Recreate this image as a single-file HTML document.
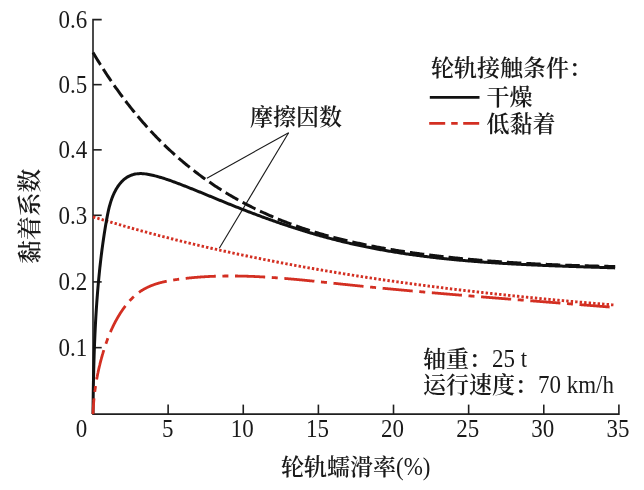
<!DOCTYPE html>
<html lang="zh"><head><meta charset="utf-8"><title>黏着系数 - 轮轨蠕滑率</title>
<style>
html,body{margin:0;padding:0;background:#fff}
svg{display:block}
text{font-family:"Liberation Serif","Noto Serif CJK SC",serif;font-size:23px;fill:#1a1a1a}
.c{font-weight:600}
.n{font-weight:400}
</style></head><body>
<svg width="644" height="490" viewBox="0 0 644 490">
<rect width="644" height="490" fill="#fff"/>
<g stroke="#1f1f1f" stroke-width="1.6" fill="none">
<path d="M101.7,19.6 L93.0,19.6 L93.0,414.1 L618.9,414.1 L618.9,404.6"/>
<line x1="168.13" y1="414.1" x2="168.13" y2="404.6"/><line x1="243.26" y1="414.1" x2="243.26" y2="404.6"/><line x1="318.39" y1="414.1" x2="318.39" y2="404.6"/><line x1="393.51" y1="414.1" x2="393.51" y2="404.6"/><line x1="468.64" y1="414.1" x2="468.64" y2="404.6"/><line x1="543.77" y1="414.1" x2="543.77" y2="404.6"/><line x1="93.0" y1="347.65" x2="101.7" y2="347.65"/><line x1="93.0" y1="281.90" x2="101.7" y2="281.90"/><line x1="93.0" y1="215.30" x2="101.7" y2="215.30"/><line x1="93.0" y1="149.85" x2="101.7" y2="149.85"/><line x1="93.0" y1="84.65" x2="101.7" y2="84.65"/>
</g>
<g stroke="#1a1a1a" stroke-width="1.1" fill="none">
<line x1="288.6" y1="132.7" x2="206.9" y2="178.2"/>
<line x1="288.6" y1="132.7" x2="219.3" y2="248.3"/>
</g>
<path d="M93.00,216.85 L94.05,217.17 L95.09,217.49 L96.14,217.81 L97.19,218.13 L98.23,218.45 L99.28,218.77 L100.33,219.08 L101.37,219.40 L102.42,219.72 L103.46,220.03 L104.51,220.34 L105.56,220.66 L106.60,220.97 L107.65,221.28 L108.70,221.59 L109.74,221.90 L110.79,222.21 L111.84,222.51 L112.88,222.82 L113.93,223.13 L114.98,223.43 L116.02,223.73 L117.07,224.04 L118.12,224.34 L119.16,224.64 L120.21,224.94 L121.26,225.24 L122.30,225.54 L123.35,225.84 L124.39,226.14 L125.44,226.44 L126.49,226.73 L127.53,227.03 L128.58,227.32 L129.63,227.61 L130.67,227.91 L131.72,228.20 L132.77,228.49 L133.81,228.78 L134.86,229.07 L135.91,229.36 L136.95,229.65 L138.00,229.94 L139.05,230.22 L140.09,230.51 L141.14,230.79 L142.19,231.08 L143.23,231.36 L144.28,231.64 L145.32,231.93 L146.37,232.21 L147.42,232.49 L148.46,232.77 L149.51,233.05 L150.56,233.33 L151.60,233.60 L152.65,233.88 L153.70,234.16 L154.74,234.43 L155.79,234.71 L156.84,234.98 L157.88,235.25 L158.93,235.53 L159.98,235.80 L161.02,236.07 L162.07,236.34 L163.12,236.61 L164.16,236.88 L165.21,237.14 L166.25,237.41 L167.30,237.68 L168.35,237.94 L169.39,238.21 L170.44,238.47 L171.49,238.74 L172.53,239.00 L173.58,239.26 L174.63,239.52 L175.67,239.79 L176.72,240.05 L177.77,240.30 L178.81,240.56 L179.86,240.82 L180.91,241.08 L181.95,241.34 L183.00,241.59 L184.04,241.85 L185.09,242.10 L186.14,242.36 L187.18,242.61 L188.23,242.86 L189.28,243.11 L190.32,243.36 L191.37,243.62 L192.42,243.87 L193.46,244.11 L194.51,244.36 L195.56,244.61 L196.60,244.86 L197.65,245.10 L198.70,245.35 L199.74,245.60 L200.79,245.84 L201.84,246.08 L202.88,246.33 L203.93,246.57 L204.97,246.81 L206.02,247.05 L207.07,247.29 L208.11,247.53 L209.16,247.77 L210.21,248.01 L211.25,248.25 L212.30,248.49 L213.35,248.72 L214.39,248.96 L215.44,249.20 L216.49,249.43 L217.53,249.67 L218.58,249.90 L219.63,250.13 L220.67,250.36 L221.72,250.60 L222.77,250.83 L223.81,251.06 L224.86,251.29 L225.90,251.52 L226.95,251.75 L228.00,251.97 L229.04,252.20 L230.09,252.43 L231.14,252.65 L232.18,252.88 L233.23,253.11 L234.28,253.33 L235.32,253.55 L236.37,253.78 L237.42,254.00 L238.46,254.22 L239.51,254.44 L240.56,254.66 L241.60,254.88 L242.65,255.10 L243.69,255.32 L244.74,255.54 L245.79,255.76 L246.83,255.98 L247.88,256.19 L248.93,256.41 L249.97,256.62 L251.02,256.84 L252.07,257.05 L253.11,257.27 L254.16,257.48 L255.21,257.69 L256.25,257.91 L257.30,258.12 L258.35,258.33 L259.39,258.54 L260.44,258.75 L261.49,258.96 L262.53,259.17 L263.58,259.38 L264.62,259.58 L265.67,259.79 L266.72,260.00 L267.76,260.20 L268.81,260.41 L269.86,260.61 L270.90,260.82 L271.95,261.02 L273.00,261.22 L274.04,261.43 L275.09,261.63 L276.14,261.83 L277.18,262.03 L278.23,262.23 L279.28,262.43 L280.32,262.63 L281.37,262.83 L282.42,263.03 L283.46,263.23 L284.51,263.42 L285.55,263.62 L286.60,263.82 L287.65,264.01 L288.69,264.21 L289.74,264.40 L290.79,264.60 L291.83,264.79 L292.88,264.98 L293.93,265.17 L294.97,265.37 L296.02,265.56 L297.07,265.75 L298.11,265.94 L299.16,266.13 L300.21,266.32 L301.25,266.51 L302.30,266.70 L303.35,266.88 L304.39,267.07 L305.44,267.26 L306.48,267.45 L307.53,267.63 L308.58,267.82 L309.62,268.00 L310.67,268.19 L311.72,268.37 L312.76,268.55 L313.81,268.74 L314.86,268.92 L315.90,269.10 L316.95,269.28 L318.00,269.46 L319.04,269.64 L320.09,269.82 L321.14,270.00 L322.18,270.18 L323.23,270.36 L324.27,270.54 L325.32,270.72 L326.37,270.90 L327.41,271.07 L328.46,271.25 L329.51,271.42 L330.55,271.60 L331.60,271.77 L332.65,271.95 L333.69,272.12 L334.74,272.30 L335.79,272.47 L336.83,272.64 L337.88,272.81 L338.93,272.98 L339.97,273.16 L341.02,273.33 L342.07,273.50 L343.11,273.67 L344.16,273.84 L345.20,274.00 L346.25,274.17 L347.30,274.34 L348.34,274.51 L349.39,274.68 L350.44,274.84 L351.48,275.01 L352.53,275.17 L353.58,275.34 L354.62,275.50 L355.67,275.67 L356.72,275.83 L357.76,276.00 L358.81,276.16 L359.86,276.32 L360.90,276.48 L361.95,276.65 L363.00,276.81 L364.04,276.97 L365.09,277.13 L366.13,277.29 L367.18,277.45 L368.23,277.61 L369.27,277.77 L370.32,277.92 L371.37,278.08 L372.41,278.24 L373.46,278.40 L374.51,278.55 L375.55,278.71 L376.60,278.87 L377.65,279.02 L378.69,279.18 L379.74,279.33 L380.79,279.48 L381.83,279.64 L382.88,279.79 L383.93,279.94 L384.97,280.10 L386.02,280.25 L387.06,280.40 L388.11,280.55 L389.16,280.70 L390.20,280.85 L391.25,281.00 L392.30,281.15 L393.34,281.30 L394.39,281.45 L395.44,281.60 L396.48,281.74 L397.53,281.89 L398.58,282.03 L399.62,282.18 L400.67,282.32 L401.72,282.47 L402.76,282.61 L403.81,282.76 L404.85,282.90 L405.90,283.04 L406.95,283.18 L407.99,283.33 L409.04,283.47 L410.09,283.61 L411.13,283.75 L412.18,283.89 L413.23,284.03 L414.27,284.17 L415.32,284.31 L416.37,284.45 L417.41,284.59 L418.46,284.73 L419.51,284.86 L420.55,285.00 L421.60,285.14 L422.65,285.28 L423.69,285.41 L424.74,285.55 L425.78,285.68 L426.83,285.82 L427.88,285.95 L428.92,286.09 L429.97,286.22 L431.02,286.36 L432.06,286.49 L433.11,286.62 L434.16,286.76 L435.20,286.89 L436.25,287.02 L437.30,287.15 L438.34,287.28 L439.39,287.41 L440.44,287.54 L441.48,287.68 L442.53,287.80 L443.58,287.93 L444.62,288.06 L445.67,288.19 L446.71,288.32 L447.76,288.45 L448.81,288.58 L449.85,288.70 L450.90,288.83 L451.95,288.96 L452.99,289.08 L454.04,289.21 L455.09,289.34 L456.13,289.46 L457.18,289.59 L458.23,289.71 L459.27,289.84 L460.32,289.96 L461.37,290.08 L462.41,290.21 L463.46,290.33 L464.51,290.45 L465.55,290.58 L466.60,290.70 L467.64,290.82 L468.69,290.94 L469.74,291.06 L470.78,291.18 L471.83,291.30 L472.88,291.42 L473.92,291.54 L474.97,291.66 L476.02,291.78 L477.06,291.90 L478.11,292.02 L479.16,292.14 L480.20,292.25 L481.25,292.37 L482.30,292.49 L483.34,292.61 L484.39,292.72 L485.43,292.84 L486.48,292.95 L487.53,293.07 L488.57,293.19 L489.62,293.30 L490.67,293.42 L491.71,293.53 L492.76,293.64 L493.81,293.76 L494.85,293.87 L495.90,293.98 L496.95,294.10 L497.99,294.21 L499.04,294.32 L500.09,294.43 L501.13,294.55 L502.18,294.66 L503.23,294.77 L504.27,294.88 L505.32,294.99 L506.36,295.10 L507.41,295.21 L508.46,295.32 L509.50,295.43 L510.55,295.54 L511.60,295.65 L512.64,295.75 L513.69,295.86 L514.74,295.97 L515.78,296.08 L516.83,296.18 L517.88,296.29 L518.92,296.40 L519.97,296.50 L521.02,296.61 L522.06,296.72 L523.11,296.82 L524.16,296.93 L525.20,297.03 L526.25,297.14 L527.29,297.24 L528.34,297.34 L529.39,297.45 L530.43,297.55 L531.48,297.65 L532.53,297.76 L533.57,297.86 L534.62,297.96 L535.67,298.06 L536.71,298.17 L537.76,298.27 L538.81,298.37 L539.85,298.47 L540.90,298.57 L541.95,298.67 L542.99,298.77 L544.04,298.87 L545.08,298.97 L546.13,299.07 L547.18,299.17 L548.22,299.27 L549.27,299.37 L550.32,299.46 L551.36,299.56 L552.41,299.66 L553.46,299.76 L554.50,299.86 L555.55,299.95 L556.60,300.05 L557.64,300.15 L558.69,300.24 L559.74,300.34 L560.78,300.43 L561.83,300.53 L562.88,300.62 L563.92,300.72 L564.97,300.81 L566.01,300.91 L567.06,301.00 L568.11,301.10 L569.15,301.19 L570.20,301.28 L571.25,301.38 L572.29,301.47 L573.34,301.56 L574.39,301.65 L575.43,301.75 L576.48,301.84 L577.53,301.93 L578.57,302.02 L579.62,302.11 L580.67,302.20 L581.71,302.29 L582.76,302.38 L583.81,302.47 L584.85,302.56 L585.90,302.65 L586.94,302.74 L587.99,302.83 L589.04,302.92 L590.08,303.01 L591.13,303.10 L592.18,303.19 L593.22,303.27 L594.27,303.36 L595.32,303.45 L596.36,303.54 L597.41,303.62 L598.46,303.71 L599.50,303.80 L600.55,303.88 L601.60,303.97 L602.64,304.05 L603.69,304.14 L604.74,304.22 L605.78,304.31 L606.83,304.39 L607.87,304.48 L608.92,304.56 L609.97,304.65 L611.01,304.73 L612.06,304.82 L613.11,304.90 L614.15,304.98 L615.20,305.07" fill="none" stroke="#d32f22" stroke-width="2.9" stroke-dasharray="2.4 2.1"/>
<path d="M93.00,52.47 L94.05,54.23 L95.09,55.97 L96.14,57.70 L97.19,59.42 L98.23,61.12 L99.28,62.80 L100.33,64.48 L101.37,66.14 L102.42,67.78 L103.46,69.42 L104.51,71.04 L105.56,72.64 L106.60,74.24 L107.65,75.82 L108.70,77.39 L109.74,78.95 L110.79,80.49 L111.84,82.02 L112.88,83.54 L113.93,85.05 L114.98,86.54 L116.02,88.02 L117.07,89.49 L118.12,90.95 L119.16,92.40 L120.21,93.84 L121.26,95.26 L122.30,96.67 L123.35,98.08 L124.39,99.47 L125.44,100.85 L126.49,102.21 L127.53,103.57 L128.58,104.92 L129.63,106.25 L130.67,107.58 L131.72,108.89 L132.77,110.19 L133.81,111.49 L134.86,112.77 L135.91,114.04 L136.95,115.30 L138.00,116.56 L139.05,117.80 L140.09,119.03 L141.14,120.25 L142.19,121.46 L143.23,122.67 L144.28,123.86 L145.32,125.04 L146.37,126.22 L147.42,127.38 L148.46,128.54 L149.51,129.68 L150.56,130.82 L151.60,131.95 L152.65,133.07 L153.70,134.17 L154.74,135.28 L155.79,136.37 L156.84,137.45 L157.88,138.52 L158.93,139.59 L159.98,140.65 L161.02,141.70 L162.07,142.74 L163.12,143.77 L164.16,144.79 L165.21,145.81 L166.25,146.81 L167.30,147.81 L168.35,148.80 L169.39,149.79 L170.44,150.76 L171.49,151.73 L172.53,152.69 L173.58,153.64 L174.63,154.59 L175.67,155.52 L176.72,156.45 L177.77,157.37 L178.81,158.29 L179.86,159.19 L180.91,160.09 L181.95,160.99 L183.00,161.87 L184.04,162.75 L185.09,163.62 L186.14,164.49 L187.18,165.34 L188.23,166.20 L189.28,167.04 L190.32,167.88 L191.37,168.71 L192.42,169.53 L193.46,170.35 L194.51,171.17 L195.56,171.97 L196.60,172.77 L197.65,173.56 L198.70,174.35 L199.74,175.13 L200.79,175.91 L201.84,176.68 L202.88,177.44 L203.93,178.20 L204.97,178.95 L206.02,179.69 L207.07,180.43 L208.11,181.17 L209.16,181.89 L210.21,182.61 L211.25,183.33 L212.30,184.04 L213.35,184.75 L214.39,185.45 L215.44,186.14 L216.49,186.83 L217.53,187.51 L218.58,188.19 L219.63,188.86 L220.67,189.53 L221.72,190.19 L222.77,190.85 L223.81,191.50 L224.86,192.14 L225.90,192.78 L226.95,193.42 L228.00,194.05 L229.04,194.67 L230.09,195.29 L231.14,195.91 L232.18,196.52 L233.23,197.13 L234.28,197.73 L235.32,198.32 L236.37,198.91 L237.42,199.50 L238.46,200.08 L239.51,200.66 L240.56,201.23 L241.60,201.80 L242.65,202.36 L243.69,202.92 L244.74,203.47 L245.79,204.02 L246.83,204.56 L247.88,205.11 L248.93,205.64 L249.97,206.18 L251.02,206.70 L252.07,207.23 L253.11,207.75 L254.16,208.27 L255.21,208.78 L256.25,209.29 L257.30,209.79 L258.35,210.29 L259.39,210.79 L260.44,211.28 L261.49,211.77 L262.53,212.26 L263.58,212.74 L264.62,213.21 L265.67,213.69 L266.72,214.16 L267.76,214.63 L268.81,215.09 L269.86,215.55 L270.90,216.00 L271.95,216.45 L273.00,216.90 L274.04,217.35 L275.09,217.79 L276.14,218.23 L277.18,218.66 L278.23,219.09 L279.28,219.52 L280.32,219.94 L281.37,220.36 L282.42,220.78 L283.46,221.19 L284.51,221.60 L285.55,222.01 L286.60,222.41 L287.65,222.81 L288.69,223.21 L289.74,223.60 L290.79,223.99 L291.83,224.38 L292.88,224.76 L293.93,225.14 L294.97,225.52 L296.02,225.89 L297.07,226.26 L298.11,226.63 L299.16,226.99 L300.21,227.36 L301.25,227.71 L302.30,228.07 L303.35,228.42 L304.39,228.77 L305.44,229.12 L306.48,229.46 L307.53,229.80 L308.58,230.13 L309.62,230.47 L310.67,230.80 L311.72,231.13 L312.76,231.45 L313.81,231.77 L314.86,232.09 L315.90,232.41 L316.95,232.72 L318.00,233.03 L319.04,233.34 L320.09,233.64 L321.14,233.95 L322.18,234.24 L323.23,234.54 L324.27,234.84 L325.32,235.13 L326.37,235.42 L327.41,235.71 L328.46,235.99 L329.51,236.28 L330.55,236.56 L331.60,236.84 L332.65,237.11 L333.69,237.39 L334.74,237.66 L335.79,237.93 L336.83,238.20 L337.88,238.46 L338.93,238.73 L339.97,238.99 L341.02,239.25 L342.07,239.50 L343.11,239.76 L344.16,240.01 L345.20,240.26 L346.25,240.51 L347.30,240.76 L348.34,241.00 L349.39,241.25 L350.44,241.49 L351.48,241.72 L352.53,241.96 L353.58,242.20 L354.62,242.43 L355.67,242.66 L356.72,242.89 L357.76,243.12 L358.81,243.34 L359.86,243.57 L360.90,243.79 L361.95,244.01 L363.00,244.23 L364.04,244.45 L365.09,244.66 L366.13,244.87 L367.18,245.08 L368.23,245.29 L369.27,245.50 L370.32,245.71 L371.37,245.91 L372.41,246.12 L373.46,246.32 L374.51,246.52 L375.55,246.72 L376.60,246.91 L377.65,247.11 L378.69,247.30 L379.74,247.49 L380.79,247.68 L381.83,247.87 L382.88,248.06 L383.93,248.24 L384.97,248.43 L386.02,248.61 L387.06,248.79 L388.11,248.97 L389.16,249.15 L390.20,249.33 L391.25,249.50 L392.30,249.68 L393.34,249.85 L394.39,250.02 L395.44,250.19 L396.48,250.36 L397.53,250.53 L398.58,250.69 L399.62,250.86 L400.67,251.02 L401.72,251.18 L402.76,251.34 L403.81,251.50 L404.85,251.66 L405.90,251.81 L406.95,251.97 L407.99,252.12 L409.04,252.28 L410.09,252.43 L411.13,252.58 L412.18,252.73 L413.23,252.87 L414.27,253.02 L415.32,253.17 L416.37,253.31 L417.41,253.45 L418.46,253.60 L419.51,253.74 L420.55,253.88 L421.60,254.01 L422.65,254.15 L423.69,254.29 L424.74,254.42 L425.78,254.56 L426.83,254.69 L427.88,254.82 L428.92,254.95 L429.97,255.08 L431.02,255.21 L432.06,255.34 L433.11,255.47 L434.16,255.59 L435.20,255.72 L436.25,255.84 L437.30,255.96 L438.34,256.08 L439.39,256.20 L440.44,256.32 L441.48,256.44 L442.53,256.56 L443.58,256.68 L444.62,256.79 L445.67,256.91 L446.71,257.02 L447.76,257.13 L448.81,257.25 L449.85,257.36 L450.90,257.47 L451.95,257.58 L452.99,257.69 L454.04,257.79 L455.09,257.90 L456.13,258.01 L457.18,258.11 L458.23,258.22 L459.27,258.32 L460.32,258.42 L461.37,258.52 L462.41,258.62 L463.46,258.72 L464.51,258.82 L465.55,258.92 L466.60,259.02 L467.64,259.11 L468.69,259.21 L469.74,259.31 L470.78,259.40 L471.83,259.49 L472.88,259.59 L473.92,259.68 L474.97,259.77 L476.02,259.86 L477.06,259.95 L478.11,260.04 L479.16,260.13 L480.20,260.22 L481.25,260.30 L482.30,260.39 L483.34,260.47 L484.39,260.56 L485.43,260.64 L486.48,260.73 L487.53,260.81 L488.57,260.89 L489.62,260.97 L490.67,261.05 L491.71,261.13 L492.76,261.21 L493.81,261.29 L494.85,261.37 L495.90,261.45 L496.95,261.53 L497.99,261.60 L499.04,261.68 L500.09,261.75 L501.13,261.83 L502.18,261.90 L503.23,261.97 L504.27,262.04 L505.32,262.12 L506.36,262.19 L507.41,262.26 L508.46,262.32 L509.50,262.39 L510.55,262.46 L511.60,262.53 L512.64,262.59 L513.69,262.66 L514.74,262.72 L515.78,262.79 L516.83,262.85 L517.88,262.91 L518.92,262.97 L519.97,263.04 L521.02,263.10 L522.06,263.16 L523.11,263.22 L524.16,263.27 L525.20,263.33 L526.25,263.39 L527.29,263.45 L528.34,263.50 L529.39,263.56 L530.43,263.61 L531.48,263.67 L532.53,263.72 L533.57,263.78 L534.62,263.83 L535.67,263.88 L536.71,263.93 L537.76,263.98 L538.81,264.03 L539.85,264.08 L540.90,264.13 L541.95,264.18 L542.99,264.23 L544.04,264.28 L545.08,264.32 L546.13,264.37 L547.18,264.42 L548.22,264.46 L549.27,264.51 L550.32,264.55 L551.36,264.60 L552.41,264.64 L553.46,264.68 L554.50,264.73 L555.55,264.77 L556.60,264.81 L557.64,264.85 L558.69,264.89 L559.74,264.93 L560.78,264.97 L561.83,265.01 L562.88,265.05 L563.92,265.09 L564.97,265.13 L566.01,265.16 L567.06,265.20 L568.11,265.24 L569.15,265.27 L570.20,265.31 L571.25,265.34 L572.29,265.38 L573.34,265.41 L574.39,265.45 L575.43,265.48 L576.48,265.52 L577.53,265.55 L578.57,265.58 L579.62,265.61 L580.67,265.65 L581.71,265.68 L582.76,265.71 L583.81,265.74 L584.85,265.77 L585.90,265.80 L586.94,265.83 L587.99,265.86 L589.04,265.89 L590.08,265.92 L591.13,265.95 L592.18,265.97 L593.22,266.00 L594.27,266.03 L595.32,266.06 L596.36,266.08 L597.41,266.11 L598.46,266.14 L599.50,266.16 L600.55,266.19 L601.60,266.21 L602.64,266.24 L603.69,266.26 L604.74,266.29 L605.78,266.31 L606.83,266.34 L607.87,266.36 L608.92,266.38 L609.97,266.41 L611.01,266.43 L612.06,266.45 L613.11,266.47 L614.15,266.50 L615.20,266.52" fill="none" stroke="#111" stroke-width="3" stroke-dasharray="14.5 5"/>
<path d="M93.00,414.10 L93.01,412.86 L93.02,411.63 L93.04,410.39 L93.05,409.15 L93.06,407.91 L93.07,406.67 L93.09,405.43 L93.10,404.19 L93.12,402.95 L93.13,401.71 L93.15,400.47 L93.16,399.23 L93.18,397.99 L93.20,396.75 L93.22,395.50 L93.23,394.26 L93.25,393.02 L93.27,391.78 L93.29,390.53 L93.31,389.29 L93.33,388.04 L93.35,386.80 L93.38,385.55 L93.40,384.31 L93.42,383.06 L93.45,381.82 L93.47,380.57 L93.50,379.32 L93.52,378.08 L93.55,376.83 L93.58,375.58 L93.60,374.34 L93.63,373.09 L93.66,371.84 L93.69,370.60 L93.72,369.35 L93.76,368.10 L93.79,366.85 L93.82,365.60 L93.86,364.36 L93.89,363.11 L93.93,361.86 L93.96,360.61 L94.00,359.36 L94.04,358.11 L94.08,356.86 L94.12,355.62 L94.16,354.37 L94.20,353.12 L94.24,351.87 L94.29,350.62 L94.33,349.37 L94.38,348.12 L94.42,346.87 L94.47,345.63 L94.52,344.38 L94.57,343.13 L94.62,341.88 L94.67,340.63 L94.72,339.38 L94.78,338.13 L94.83,336.89 L94.89,335.64 L94.94,334.39 L95.00,333.14 L95.06,331.89 L95.12,330.65 L95.18,329.40 L95.24,328.15 L95.30,326.91 L95.37,325.66 L95.43,324.41 L95.50,323.17 L95.57,321.92 L95.64,320.67 L95.71,319.43 L95.78,318.18 L95.85,316.94 L95.93,315.69 L96.00,314.45 L96.08,313.20 L96.16,311.96 L96.23,310.72 L96.31,309.47 L96.40,308.23 L96.48,306.99 L96.56,305.74 L96.65,304.50 L96.74,303.26 L96.82,302.02 L96.91,300.78 L97.00,299.54 L97.10,298.30 L97.19,297.06 L97.29,295.82 L97.38,294.58 L97.48,293.34 L97.58,292.10 L97.68,290.87 L97.78,289.63 L97.89,288.39 L97.99,287.16 L98.10,285.92 L98.21,284.69 L98.32,283.45 L98.43,282.22 L98.54,280.99 L98.66,279.75 L98.77,278.52 L98.89,277.29 L99.01,276.06 L99.13,274.83 L99.25,273.60 L99.38,272.37 L99.50,271.14 L99.63,269.91 L99.76,268.68 L99.89,267.45 L100.02,266.23 L100.16,265.00 L100.30,263.77 L100.43,262.55 L100.57,261.32 L100.72,260.09 L100.86,258.87 L101.01,257.64 L101.16,256.41 L101.31,255.19 L101.46,253.96 L101.61,252.73 L101.77,251.51 L101.93,250.28 L102.09,249.05 L102.25,247.82 L102.42,246.59 L102.59,245.37 L102.76,244.14 L102.93,242.91 L103.10,241.68 L103.28,240.44 L103.46,239.21 L103.64,237.98 L103.83,236.75 L104.01,235.51 L104.20,234.28 L104.39,233.04 L104.59,231.81 L104.79,230.57 L104.99,229.33 L105.19,228.09 L105.39,226.85 L105.60,225.61 L105.81,224.37 L106.03,223.12 L106.24,221.88 L106.46,220.63 L106.68,219.38 L106.91,218.14 L107.14,216.89 L107.38,215.64 L107.62,214.39 L107.88,213.15 L108.14,211.91 L108.41,210.67 L108.69,209.43 L108.99,208.19 L109.29,206.96 L109.62,205.74 L109.95,204.52 L110.30,203.30 L110.67,202.10 L111.06,200.89 L111.46,199.70 L111.89,198.51 L112.33,197.33 L112.80,196.16 L113.29,195.00 L113.80,193.85 L114.34,192.71 L114.90,191.58 L115.49,190.46 L116.11,189.36 L116.75,188.27 L117.42,187.20 L118.12,186.15 L118.84,185.12 L119.59,184.13 L120.37,183.16 L121.18,182.23 L122.02,181.33 L122.88,180.48 L123.77,179.66 L124.69,178.90 L125.64,178.18 L126.62,177.51 L127.62,176.90 L128.65,176.33 L129.71,175.83 L130.79,175.37 L131.89,174.97 L133.01,174.61 L134.15,174.32 L135.30,174.07 L136.47,173.88 L137.66,173.74 L138.86,173.65 L140.07,173.61 L141.28,173.61 L142.51,173.66 L143.75,173.75 L144.99,173.87 L146.23,174.03 L147.48,174.22 L148.73,174.44 L149.98,174.68 L151.23,174.95 L152.47,175.23 L153.72,175.53 L154.96,175.84 L156.19,176.16 L157.42,176.49 L158.64,176.83 L159.86,177.19 L161.08,177.55 L162.29,177.91 L163.49,178.29 L164.69,178.68 L165.89,179.07 L167.08,179.47 L168.27,179.87 L169.46,180.28 L170.65,180.70 L171.83,181.12 L173.01,181.55 L174.18,181.98 L175.36,182.41 L176.53,182.85 L177.70,183.29 L178.87,183.73 L180.03,184.18 L181.20,184.63 L182.36,185.08 L183.53,185.53 L184.69,185.98 L185.85,186.44 L187.01,186.89 L188.17,187.35 L189.33,187.81 L190.48,188.27 L191.64,188.74 L192.79,189.20 L193.95,189.66 L195.10,190.13 L196.25,190.60 L197.41,191.06 L198.56,191.53 L199.71,192.00 L200.86,192.47 L202.01,192.94 L203.16,193.41 L204.31,193.88 L205.45,194.36 L206.60,194.83 L207.75,195.30 L208.90,195.78 L210.05,196.25 L211.19,196.72 L212.34,197.20 L213.49,197.67 L214.64,198.14 L215.78,198.62 L216.93,199.09 L218.08,199.56 L219.23,200.03 L220.38,200.50 L221.52,200.98 L222.67,201.45 L223.82,201.92 L224.97,202.39 L226.12,202.85 L227.27,203.32 L228.43,203.79 L229.58,204.25 L230.73,204.72 L231.88,205.18 L233.04,205.64 L234.19,206.10 L235.35,206.56 L236.50,207.02 L237.66,207.48 L238.82,207.94 L239.98,208.39 L241.13,208.85 L242.29,209.30 L243.45,209.75 L244.61,210.20 L245.78,210.65 L246.94,211.10 L248.10,211.54 L249.26,211.99 L250.43,212.43 L251.59,212.87 L252.76,213.32 L253.92,213.76 L255.09,214.19 L256.25,214.63 L257.42,215.07 L258.59,215.50 L259.76,215.93 L260.93,216.36 L262.10,216.79 L263.27,217.22 L264.44,217.65 L265.61,218.07 L266.78,218.50 L267.96,218.92 L269.13,219.34 L270.30,219.76 L271.48,220.18 L272.65,220.59 L273.83,221.01 L275.01,221.42 L276.18,221.83 L277.36,222.24 L278.54,222.65 L279.72,223.05 L280.90,223.46 L282.08,223.86 L283.26,224.26 L284.44,224.66 L285.62,225.05 L286.80,225.45 L287.99,225.84 L289.17,226.24 L290.36,226.62 L291.54,227.01 L292.73,227.40 L293.91,227.78 L295.10,228.16 L296.29,228.55 L297.47,228.92 L298.66,229.30 L299.85,229.67 L301.04,230.05 L302.23,230.42 L303.42,230.79 L304.61,231.15 L305.80,231.52 L307.00,231.88 L308.19,232.24 L309.38,232.60 L310.58,232.95 L311.77,233.31 L312.97,233.66 L314.16,234.01 L315.36,234.36 L316.55,234.70 L317.75,235.05 L318.95,235.39 L320.15,235.73 L321.35,236.06 L322.55,236.40 L323.75,236.73 L324.95,237.06 L326.15,237.39 L327.35,237.71 L328.55,238.03 L329.75,238.35 L330.96,238.67 L332.16,238.99 L333.37,239.30 L334.57,239.61 L335.78,239.92 L336.98,240.23 L338.19,240.53 L339.40,240.83 L340.60,241.13 L341.81,241.43 L343.02,241.72 L344.23,242.01 L345.44,242.30 L346.65,242.59 L347.86,242.87 L349.07,243.15 L350.28,243.43 L351.50,243.71 L352.71,243.98 L353.92,244.26 L355.13,244.53 L356.35,244.79 L357.56,245.06 L358.78,245.32 L359.99,245.58 L361.21,245.84 L362.43,246.10 L363.64,246.35 L364.86,246.60 L366.08,246.85 L367.30,247.10 L368.52,247.34 L369.74,247.59 L370.95,247.83 L372.17,248.06 L373.40,248.30 L374.62,248.53 L375.84,248.77 L377.06,249.00 L378.28,249.22 L379.50,249.45 L380.73,249.67 L381.95,249.89 L383.17,250.11 L384.40,250.33 L385.62,250.54 L386.85,250.76 L388.07,250.97 L389.30,251.18 L390.53,251.38 L391.75,251.59 L392.98,251.79 L394.21,251.99 L395.43,252.19 L396.66,252.39 L397.89,252.59 L399.12,252.78 L400.35,252.97 L401.58,253.16 L402.81,253.35 L404.04,253.53 L405.27,253.72 L406.50,253.90 L407.73,254.08 L408.96,254.26 L410.19,254.43 L411.43,254.61 L412.66,254.78 L413.89,254.95 L415.12,255.12 L416.36,255.29 L417.59,255.46 L418.82,255.62 L420.06,255.78 L421.29,255.94 L422.53,256.10 L423.76,256.26 L425.00,256.42 L426.23,256.57 L427.47,256.72 L428.71,256.87 L429.94,257.02 L431.18,257.17 L432.42,257.32 L433.65,257.46 L434.89,257.60 L436.13,257.75 L437.37,257.89 L438.61,258.02 L439.84,258.16 L441.08,258.30 L442.32,258.43 L443.56,258.56 L444.80,258.69 L446.04,258.82 L447.28,258.95 L448.52,259.08 L449.76,259.20 L451.00,259.32 L452.24,259.45 L453.48,259.57 L454.72,259.69 L455.96,259.81 L457.21,259.92 L458.45,260.04 L459.69,260.15 L460.93,260.26 L462.17,260.38 L463.42,260.49 L464.66,260.59 L465.90,260.70 L467.14,260.81 L468.39,260.91 L469.63,261.02 L470.87,261.12 L472.12,261.22 L473.36,261.32 L474.60,261.42 L475.85,261.52 L477.09,261.61 L478.33,261.71 L479.58,261.80 L480.82,261.90 L482.07,261.99 L483.31,262.08 L484.56,262.17 L485.80,262.26 L487.05,262.35 L488.29,262.43 L489.54,262.52 L490.78,262.60 L492.03,262.69 L493.27,262.77 L494.52,262.85 L495.76,262.93 L497.01,263.01 L498.25,263.09 L499.50,263.17 L500.74,263.25 L501.99,263.32 L503.24,263.40 L504.48,263.47 L505.73,263.54 L506.97,263.62 L508.22,263.69 L509.46,263.76 L510.71,263.83 L511.96,263.90 L513.20,263.97 L514.45,264.03 L515.70,264.10 L516.94,264.17 L518.19,264.23 L519.43,264.29 L520.68,264.36 L521.93,264.42 L523.17,264.48 L524.42,264.54 L525.66,264.60 L526.91,264.66 L528.16,264.72 L529.40,264.78 L530.65,264.84 L531.89,264.90 L533.14,264.95 L534.39,265.01 L535.63,265.07 L536.88,265.12 L538.12,265.17 L539.37,265.23 L540.61,265.28 L541.86,265.33 L543.11,265.39 L544.35,265.44 L545.60,265.49 L546.84,265.54 L548.09,265.59 L549.33,265.64 L550.58,265.69 L551.82,265.74 L553.07,265.78 L554.31,265.83 L555.56,265.88 L556.80,265.93 L558.05,265.97 L559.29,266.02 L560.53,266.07 L561.78,266.11 L563.02,266.16 L564.27,266.20 L565.51,266.25 L566.75,266.29 L568.00,266.33 L569.24,266.38 L570.48,266.42 L571.73,266.46 L572.97,266.51 L574.21,266.55 L575.46,266.59 L576.70,266.64 L577.94,266.68 L579.18,266.72 L580.42,266.76 L581.67,266.80 L582.91,266.84 L584.15,266.89 L585.39,266.93 L586.63,266.97 L587.87,267.01 L589.11,267.05 L590.35,267.09 L591.59,267.13 L592.83,267.17 L594.07,267.21 L595.31,267.25 L596.55,267.29 L597.79,267.33 L599.03,267.37 L600.27,267.41 L601.51,267.46 L602.75,267.50 L603.98,267.54 L605.22,267.58 L606.46,267.62 L607.70,267.66 L608.93,267.70 L610.17,267.74 L611.41,267.78 L612.64,267.82 L613.88,267.87 L615.12,267.91" fill="none" stroke="#111" stroke-width="3" stroke-linejoin="round"/>
<path d="M93.00,414.10 L93.01,413.69 L93.03,413.28 L93.04,412.87 L93.06,412.46 L93.08,412.05 L93.09,411.64 L93.11,411.23 L93.13,410.81 L93.15,410.40 L93.17,409.99 L93.19,409.58 L93.21,409.17 L93.23,408.76 L93.26,408.35 L93.28,407.94 L93.30,407.53 L93.33,407.12 L93.36,406.71 L93.38,406.30 L93.41,405.89 L93.44,405.48 L93.47,405.07 L93.49,404.67 L93.52,404.26 L93.56,403.85 L93.59,403.44 L93.62,403.03 L93.65,402.62 L93.68,402.21 L93.72,401.80 L93.75,401.39 L93.79,400.98 L93.82,400.58 L93.86,400.17 L93.90,399.76 L93.94,399.35 L93.98,398.94 L94.02,398.53 L94.06,398.13 L94.10,397.72 L94.14,397.31 L94.18,396.90 L94.22,396.49 L94.27,396.09 L94.31,395.68 L94.36,395.27 L94.40,394.87 L94.45,394.46 L94.50,394.05 L94.55,393.64 L94.59,393.24 L94.64,392.83 L94.69,392.42 L94.74,392.02 L94.80,391.61 L94.85,391.20 L94.90,390.80 L94.95,390.39 L95.01,389.99 L95.06,389.58 L95.12,389.17 L95.17,388.77 L95.23,388.36 L95.29,387.96 L95.35,387.55 L95.41,387.15 L95.47,386.74 L95.53,386.34 L95.59,385.93 L95.65,385.53 L95.71,385.12 L95.77,384.72 L95.84,384.32 L95.90,383.91 L95.97,383.51 L96.03,383.10 L96.10,382.70 L96.17,382.30 L96.23,381.89 L96.30,381.49 L96.37,381.09 L96.44,380.68 L96.51,380.28 L96.58,379.88 L96.65,379.48 L96.73,379.07 L96.80,378.67 L96.87,378.27 L96.95,377.87 L97.02,377.46 L97.10,377.06 L97.18,376.66 L97.25,376.26 L97.33,375.86 L97.41,375.46 L97.49,375.06 L97.57,374.66 L97.65,374.26 L97.73,373.85 L97.81,373.45 L97.90,373.05 L97.98,372.65 L98.06,372.25 L98.15,371.85 L98.23,371.46 L98.32,371.06 L98.41,370.66 L98.49,370.26 L98.58,369.86 L98.67,369.46 L98.76,369.06 L98.85,368.66 L98.94,368.26 L99.03,367.87 L99.12,367.47 L99.21,367.07 L99.31,366.67 L99.40,366.28 L99.50,365.88 L99.59,365.48 L99.69,365.09 L99.78,364.69 L99.88,364.29 L99.98,363.90 L100.08,363.50 L100.18,363.10 L100.28,362.71 L100.38,362.31 L100.48,361.92 L100.58,361.52 L100.68,361.13 L100.79,360.73 L100.89,360.34 L101.00,359.94 L101.10,359.55 L101.21,359.16 L101.31,358.76 L101.42,358.37 L101.53,357.98 L101.64,357.58 L101.75,357.19 L101.86,356.80 L101.97,356.40 L102.08,356.01 L102.19,355.62 L102.30,355.23 L102.41,354.84 L102.53,354.44 L102.64,354.05 L102.76,353.66 L102.87,353.27 L102.99,352.88 L103.11,352.49 L103.22,352.10 L103.34,351.71 L103.46,351.32 L103.58,350.93 L103.70,350.54 L103.82,350.15 L103.94,349.76 L104.07,349.37 L104.19,348.99 L104.31,348.60 L104.44,348.21 L104.56,347.82 L104.69,347.43 L104.81,347.05 L104.94,346.66 L105.07,346.27 L105.20,345.89 L105.33,345.50 L105.46,345.11 L105.59,344.73 L105.72,344.34 L105.85,343.96 L105.99,343.57 L106.12,343.19 L106.26,342.80 L106.39,342.42 L106.53,342.04 L106.67,341.65 L106.80,341.27 L106.94,340.89 L107.08,340.50 L107.22,340.12 L107.36,339.74 L107.51,339.36 L107.65,338.97 L107.79,338.59 L107.94,338.21 L108.09,337.83 L108.23,337.45 L108.38,337.07 L108.53,336.69 L108.68,336.31 L108.83,335.93 L108.98,335.55 L109.13,335.17 L109.29,334.79 L109.44,334.42 L109.60,334.04 L109.76,333.66 L109.91,333.28 L110.07,332.91 L110.23,332.53 L110.39,332.16 L110.55,331.78 L110.72,331.40 L110.88,331.03 L111.05,330.65 L111.21,330.28 L111.38,329.91 L111.55,329.53 L111.72,329.16 L111.89,328.79 L112.06,328.41 L112.23,328.04 L112.41,327.67 L112.58,327.30 L112.76,326.93 L112.93,326.56 L113.11,326.18 L113.29,325.81 L113.47,325.45 L113.65,325.08 L113.84,324.71 L114.02,324.34 L114.21,323.97 L114.39,323.60 L114.58,323.24 L114.77,322.87 L114.96,322.50 L115.15,322.14 L115.35,321.77 L115.54,321.40 L115.74,321.04 L115.93,320.67 L116.13,320.31 L116.33,319.95 L116.53,319.58 L116.73,319.22 L116.94,318.86 L117.14,318.50 L117.35,318.13 L117.56,317.77 L117.76,317.41 L117.98,317.05 L118.19,316.69 L118.40,316.33 L118.61,315.97 L118.83,315.61 L119.05,315.26 L119.27,314.90 L119.49,314.54 L119.71,314.19 L119.93,313.83 L120.15,313.48 L120.38,313.12 L120.61,312.77 L120.83,312.42 L121.06,312.07 L121.29,311.71 L121.53,311.36 L121.76,311.02 L122.00,310.67 L122.23,310.32 L122.47,309.97 L122.71,309.63 L122.95,309.28 L123.19,308.94 L123.44,308.60 L123.68,308.26 L123.93,307.92 L124.18,307.58 L124.43,307.24 L124.68,306.91 L124.93,306.57 L125.18,306.24 L125.44,305.90 L125.69,305.57 L125.95,305.24 L126.21,304.92 L126.47,304.59 L126.74,304.26 L127.00,303.94 L127.26,303.62 L127.53,303.30 L127.80,302.98 L128.07,302.66 L128.34,302.35 L128.61,302.03 L128.89,301.72 L129.16,301.41 L129.44,301.10 L129.72,300.79 L130.00,300.49 L130.28,300.18 L130.56,299.88 L130.84,299.58 L131.13,299.28 L131.42,298.99 L131.71,298.69 L132.00,298.40 L132.29,298.11 L132.58,297.82 L132.87,297.54 L133.17,297.26 L133.47,296.97 L133.77,296.70 L134.07,296.42 L134.37,296.14 L134.67,295.87 L134.98,295.60 L135.28,295.33 L135.59,295.07 L135.90,294.81 L136.21,294.54 L136.52,294.29 L136.84,294.03 L137.15,293.78 L137.47,293.53 L137.79,293.28 L138.11,293.03 L138.43,292.79 L138.75,292.55 L139.08,292.31 L139.40,292.08 L139.73,291.85 L140.06,291.62 L140.39,291.39 L140.72,291.17 L141.05,290.95 L141.39,290.73 L141.73,290.51 L142.06,290.30 L142.40,290.09 L142.74,289.88 L143.09,289.68 L143.43,289.48 L143.78,289.28 L144.12,289.08 L144.47,288.89 L144.82,288.69 L145.17,288.51 L145.52,288.32 L145.87,288.13 L146.23,287.95 L146.58,287.77 L146.94,287.60 L147.30,287.42 L147.66,287.25 L148.02,287.08 L148.38,286.91 L148.74,286.75 L149.11,286.59 L149.47,286.42 L149.84,286.27 L150.21,286.11 L150.57,285.96 L150.94,285.80 L151.31,285.66 L151.69,285.51 L152.06,285.36 L152.43,285.22 L152.81,285.08 L153.18,284.94 L153.56,284.80 L153.94,284.67 L154.32,284.53 L154.70,284.40 L155.08,284.27 L155.46,284.14 L155.84,284.02 L156.22,283.90 L156.61,283.77 L156.99,283.65 L157.38,283.54 L157.77,283.42 L158.15,283.30 L158.54,283.19 L158.93,283.08 L159.32,282.97 L159.71,282.86 L160.10,282.76 L160.50,282.65 L160.89,282.55 L161.28,282.45 L161.68,282.35 L162.07,282.25 L162.47,282.15 L162.86,282.05 L163.26,281.96 L163.66,281.87 L164.05,281.78 L164.45,281.69 L164.85,281.60 L165.25,281.51 L165.65,281.42 L166.05,281.34 L166.45,281.26 L166.85,281.18 L167.26,281.09 L167.66,281.01 L168.06,280.94 L168.47,280.86 L168.87,280.78 L169.27,280.71 L169.68,280.63 L170.08,280.56 L170.49,280.49 L170.89,280.42 L171.30,280.35 L171.71,280.28 L172.11,280.21 L172.52,280.15 L172.93,280.08 L173.34,280.02 L173.74,279.95 L174.15,279.89 L174.56,279.83 L174.97,279.76 L175.38,279.70 L175.78,279.64 L176.19,279.58 L176.60,279.52 L177.01,279.47 L177.42,279.41 L177.83,279.35 L178.24,279.30 L178.65,279.24 L179.06,279.19 L179.47,279.13 L179.88,279.08 L180.29,279.03 L180.70,278.97 L181.10,278.92 L181.51,278.87 L181.92,278.82 L182.33,278.77 L182.74,278.72 L183.15,278.67 L183.56,278.62 L183.97,278.57 L184.38,278.52 L184.79,278.48 L185.20,278.43 L185.61,278.38 L186.02,278.34 L186.43,278.29 L186.84,278.25 L187.25,278.20 L187.66,278.16 L188.06,278.11 L188.47,278.07 L188.88,278.03 L189.29,277.98 L189.70,277.94 L190.11,277.90 L190.52,277.86 L190.93,277.82 L191.34,277.78 L191.75,277.74 L192.16,277.70 L192.57,277.66 L192.98,277.63 L193.39,277.59 L193.80,277.55 L194.20,277.52 L194.61,277.48 L195.02,277.44 L195.43,277.41 L195.84,277.37 L196.25,277.34 L196.66,277.31 L197.07,277.27 L197.48,277.24 L197.89,277.21 L198.30,277.18 L198.71,277.15 L199.12,277.11 L199.53,277.08 L199.93,277.05 L200.34,277.02 L200.75,277.00 L201.16,276.97 L201.57,276.94 L201.98,276.91 L202.39,276.88 L202.80,276.86 L203.21,276.83 L203.62,276.80 L204.03,276.78 L204.44,276.75 L204.85,276.73 L205.25,276.70 L205.66,276.68 L206.07,276.66 L206.48,276.63 L206.89,276.61 L207.30,276.59 L207.71,276.57 L208.12,276.54 L208.53,276.52 L208.94,276.50 L209.35,276.48 L209.76,276.46 L210.17,276.44 L210.57,276.43 L210.98,276.41 L211.39,276.39 L211.80,276.37 L212.21,276.35 L212.62,276.34 L213.03,276.32 L213.44,276.30 L213.85,276.29 L214.26,276.27 L214.67,276.26 L215.07,276.24 L215.48,276.23 L215.89,276.22 L216.30,276.20 L216.71,276.19 L217.12,276.18 L217.53,276.17 L217.94,276.15 L218.35,276.14 L218.76,276.13 L219.17,276.12 L219.57,276.11 L219.98,276.10 L220.39,276.09 L220.80,276.08 L221.21,276.07 L221.62,276.07 L222.03,276.06 L222.44,276.05 L222.85,276.04 L223.26,276.04 L223.67,276.03 L224.07,276.03 L224.48,276.02 L224.89,276.01 L225.30,276.01 L225.71,276.00 L226.12,276.00 L226.53,276.00 L226.94,275.99 L227.35,275.99 L227.76,275.99 L228.16,275.98 L228.57,275.98 L228.98,275.98 L229.39,275.98 L229.80,275.98 L230.21,275.98 L230.62,275.98 L231.03,275.98 L231.44,275.98 L231.85,275.98 L232.25,275.98 L232.66,275.98 L233.07,275.98 L233.48,275.99 L233.89,275.99 L234.30,275.99 L234.71,275.99 L235.12,276.00 L235.53,276.00 L235.94,276.00 L236.34,276.01 L236.75,276.01 L237.16,276.02 L237.57,276.02 L237.98,276.03 L238.39,276.04 L238.80,276.04 L239.21,276.05 L239.62,276.06 L240.02,276.06 L240.43,276.07 L240.84,276.08 L241.25,276.09 L241.66,276.10 L242.07,276.10 L242.48,276.11 L242.89,276.12 L243.30,276.13 L243.70,276.14 L244.11,276.15 L244.52,276.16 L244.93,276.17 L245.34,276.19 L245.75,276.20 L246.16,276.21 L246.57,276.22 L246.98,276.23 L247.38,276.25 L247.79,276.26 L248.20,276.27 L248.61,276.29 L249.02,276.30 L249.43,276.31 L249.84,276.33 L250.25,276.34 L250.66,276.36 L251.06,276.37 L251.47,276.39 L251.88,276.40 L252.29,276.42 L252.70,276.44 L253.11,276.45 L253.52,276.47 L253.93,276.49 L254.33,276.50 L254.74,276.52 L255.15,276.54 L255.56,276.56 L255.97,276.58 L256.38,276.60 L256.79,276.62 L257.20,276.63 L257.60,276.65 L258.01,276.67 L258.42,276.69 L258.83,276.71 L259.24,276.73 L259.65,276.76 L260.06,276.78 L260.47,276.80 L260.87,276.82 L261.28,276.84 L261.69,276.86 L262.10,276.89 L262.51,276.91 L262.92,276.93 L263.33,276.95 L263.74,276.98 L264.14,277.00 L264.55,277.02 L264.96,277.05 L265.37,277.07 L265.78,277.10 L266.19,277.12 L266.60,277.15 L267.01,277.17 L267.41,277.20 L267.82,277.22 L268.23,277.25 L268.64,277.27 L269.05,277.30 L269.46,277.33 L269.87,277.35 L270.27,277.38 L270.68,277.41 L271.09,277.43 L271.50,277.46 L271.91,277.49 L272.32,277.52 L272.73,277.54 L273.14,277.57 L273.54,277.60 L273.95,277.63 L274.36,277.66 L274.77,277.69 L275.18,277.72 L275.59,277.75 L276.00,277.77 L276.40,277.80 L276.81,277.83 L277.22,277.86 L277.63,277.90 L278.04,277.93 L278.45,277.96 L278.86,277.99 L279.26,278.02 L279.67,278.05 L280.08,278.08 L280.49,278.11 L280.90,278.15 L281.31,278.18 L281.72,278.21 L282.12,278.24 L282.53,278.27 L282.94,278.31 L283.35,278.34 L283.76,278.37 L284.17,278.41 L284.58,278.44 L284.98,278.47 L285.39,278.51 L285.80,278.54 L286.21,278.57 L286.62,278.61 L287.03,278.64 L287.44,278.68 L287.84,278.71 L288.25,278.75 L288.66,278.78 L289.07,278.82 L289.48,278.85 L289.89,278.89 L290.30,278.92 L290.70,278.96 L291.11,279.00 L291.52,279.03 L291.93,279.07 L292.34,279.10 L292.75,279.14 L293.15,279.18 L293.56,279.21 L293.97,279.25 L294.38,279.29 L294.79,279.32 L295.20,279.36 L295.61,279.40 L296.01,279.44 L296.42,279.47 L296.83,279.51 L297.24,279.55 L297.65,279.59 L298.06,279.63 L298.46,279.66 L298.87,279.70 L299.28,279.74 L299.69,279.78 L300.10,279.82 L300.51,279.86 L300.92,279.90 L301.32,279.94 L301.73,279.97 L302.14,280.01 L302.55,280.05 L302.96,280.09 L303.37,280.13 L303.77,280.17 L304.18,280.21 L304.59,280.25 L305.00,280.29 L305.41,280.33 L305.82,280.37 L306.22,280.41 L306.63,280.45 L307.04,280.49 L307.45,280.53 L307.86,280.57 L308.27,280.61 L308.67,280.66 L309.08,280.70 L309.49,280.74 L309.90,280.78 L310.31,280.82 L310.72,280.86 L311.12,280.90 L311.53,280.94 L311.94,280.98 L312.35,281.03 L312.76,281.07 L313.17,281.11 L313.57,281.15 L313.98,281.19 L314.39,281.23 L314.80,281.28 L315.21,281.32 L315.62,281.36 L316.02,281.40 L316.43,281.44 L316.84,281.49 L317.25,281.53 L317.66,281.57 L318.07,281.61 L318.47,281.66 L318.88,281.70 L319.29,281.74 L319.70,281.78 L320.11,281.83 L320.52,281.87 L320.92,281.91 L321.33,281.95 L321.74,282.00 L322.15,282.04 L322.56,282.08 L322.97,282.13 L323.37,282.17 L323.78,282.21 L324.19,282.26 L324.60,282.30 L325.01,282.34 L325.42,282.38 L325.82,282.43 L326.23,282.47 L326.64,282.51 L327.05,282.56 L327.46,282.60 L327.86,282.64 L328.27,282.69 L328.68,282.73 L329.09,282.77 L329.50,282.82 L329.91,282.86 L330.31,282.90 L330.72,282.95 L331.13,282.99 L331.54,283.03 L331.95,283.08 L332.36,283.12 L332.76,283.16 L333.17,283.21 L333.58,283.25 L333.99,283.29 L334.40,283.34 L334.80,283.38 L335.21,283.42 L335.62,283.47 L336.03,283.51 L336.44,283.56 L336.85,283.60 L337.25,283.64 L337.66,283.69 L338.07,283.73 L338.48,283.77 L338.89,283.82 L339.29,283.86 L339.70,283.90 L340.11,283.95 L340.52,283.99 L340.93,284.03 L341.33,284.08 L341.74,284.12 L342.15,284.16 L342.56,284.20 L342.97,284.25 L343.38,284.29 L343.78,284.33 L344.19,284.38 L344.60,284.42 L345.01,284.46 L345.42,284.51 L345.82,284.55 L346.23,284.59 L346.64,284.63 L347.05,284.68 L347.46,284.72 L347.86,284.76 L348.27,284.80 L348.68,284.85 L349.09,284.89 L349.50,284.93 L349.90,284.97 L350.31,285.02 L350.72,285.06 L351.13,285.10 L351.54,285.14 L351.95,285.19 L352.35,285.23 L352.76,285.27 L353.17,285.31 L353.58,285.35 L353.99,285.40 L354.39,285.44 L354.80,285.48 L355.21,285.52 L355.62,285.56 L356.03,285.61 L356.43,285.65 L356.84,285.69 L357.25,285.73 L357.66,285.77 L358.07,285.81 L358.47,285.86 L358.88,285.90 L359.29,285.94 L359.70,285.98 L360.11,286.02 L360.51,286.06 L360.92,286.10 L361.33,286.15 L361.74,286.19 L362.15,286.23 L362.55,286.27 L362.96,286.31 L363.37,286.35 L363.78,286.39 L364.19,286.43 L364.59,286.47 L365.00,286.51 L365.41,286.55 L365.82,286.60 L366.23,286.64 L366.63,286.68 L367.04,286.72 L367.45,286.76 L367.86,286.80 L368.27,286.84 L368.67,286.88 L369.08,286.92 L369.49,286.96 L369.90,287.00 L370.31,287.04 L370.71,287.08 L371.12,287.12 L371.53,287.16 L371.94,287.20 L372.35,287.24 L372.75,287.28 L373.16,287.32 L373.57,287.36 L373.98,287.40 L374.39,287.44 L374.79,287.48 L375.20,287.52 L375.61,287.56 L376.02,287.60 L376.42,287.64 L376.83,287.68 L377.24,287.72 L377.65,287.76 L378.06,287.80 L378.46,287.84 L378.87,287.88 L379.28,287.92 L379.69,287.96 L380.10,288.00 L380.50,288.04 L380.91,288.08 L381.32,288.11 L381.73,288.15 L382.14,288.19 L382.54,288.23 L382.95,288.27 L383.36,288.31 L383.77,288.35 L384.18,288.39 L384.58,288.43 L384.99,288.47 L385.40,288.51 L385.81,288.54 L386.21,288.58 L386.62,288.62 L387.03,288.66 L387.44,288.70 L387.85,288.74 L388.25,288.78 L388.66,288.81 L389.07,288.85 L389.48,288.89 L389.89,288.93 L390.29,288.97 L390.70,289.01 L391.11,289.05 L391.52,289.08 L391.92,289.12 L392.33,289.16 L392.74,289.20 L393.15,289.24 L393.56,289.28 L393.96,289.31 L394.37,289.35 L394.78,289.39 L395.19,289.43 L395.60,289.47 L396.00,289.50 L396.41,289.54 L396.82,289.58 L397.23,289.62 L397.63,289.66 L398.04,289.69 L398.45,289.73 L398.86,289.77 L399.27,289.81 L399.67,289.84 L400.08,289.88 L400.49,289.92 L400.90,289.96 L401.31,289.99 L401.71,290.03 L402.12,290.07 L402.53,290.11 L402.94,290.14 L403.34,290.18 L403.75,290.22 L404.16,290.26 L404.57,290.29 L404.98,290.33 L405.38,290.37 L405.79,290.41 L406.20,290.44 L406.61,290.48 L407.02,290.52 L407.42,290.55 L407.83,290.59 L408.24,290.63 L408.65,290.66 L409.05,290.70 L409.46,290.74 L409.87,290.78 L410.28,290.81 L410.69,290.85 L411.09,290.89 L411.50,290.92 L411.91,290.96 L412.32,291.00 L412.73,291.03 L413.13,291.07 L413.54,291.11 L413.95,291.14 L414.36,291.18 L414.76,291.22 L415.17,291.25 L415.58,291.29 L415.99,291.32 L416.40,291.36 L416.80,291.40 L417.21,291.43 L417.62,291.47 L418.03,291.51 L418.43,291.54 L418.84,291.58 L419.25,291.61 L419.66,291.65 L420.07,291.69 L420.47,291.72 L420.88,291.76 L421.29,291.80 L421.70,291.83 L422.10,291.87 L422.51,291.90 L422.92,291.94 L423.33,291.98 L423.74,292.01 L424.14,292.05 L424.55,292.08 L424.96,292.12 L425.37,292.15 L425.78,292.19 L426.18,292.23 L426.59,292.26 L427.00,292.30 L427.41,292.33 L427.81,292.37 L428.22,292.40 L428.63,292.44 L429.04,292.48 L429.45,292.51 L429.85,292.55 L430.26,292.58 L430.67,292.62 L431.08,292.65 L431.48,292.69 L431.89,292.72 L432.30,292.76 L432.71,292.79 L433.12,292.83 L433.52,292.86 L433.93,292.90 L434.34,292.94 L434.75,292.97 L435.16,293.01 L435.56,293.04 L435.97,293.08 L436.38,293.11 L436.79,293.15 L437.19,293.18 L437.60,293.22 L438.01,293.25 L438.42,293.29 L438.83,293.32 L439.23,293.36 L439.64,293.39 L440.05,293.43 L440.46,293.46 L440.86,293.50 L441.27,293.53 L441.68,293.56 L442.09,293.60 L442.50,293.63 L442.90,293.67 L443.31,293.70 L443.72,293.74 L444.13,293.77 L444.53,293.81 L444.94,293.84 L445.35,293.88 L445.76,293.91 L446.17,293.95 L446.57,293.98 L446.98,294.01 L447.39,294.05 L447.80,294.08 L448.21,294.12 L448.61,294.15 L449.02,294.19 L449.43,294.22 L449.84,294.26 L450.24,294.29 L450.65,294.32 L451.06,294.36 L451.47,294.39 L451.88,294.43 L452.28,294.46 L452.69,294.50 L453.10,294.53 L453.51,294.56 L453.92,294.60 L454.32,294.63 L454.73,294.67 L455.14,294.70 L455.55,294.73 L455.95,294.77 L456.36,294.80 L456.77,294.84 L457.18,294.87 L457.59,294.90 L457.99,294.94 L458.40,294.97 L458.81,295.01 L459.22,295.04 L459.62,295.07 L460.03,295.11 L460.44,295.14 L460.85,295.17 L461.26,295.21 L461.66,295.24 L462.07,295.28 L462.48,295.31 L462.89,295.34 L463.30,295.38 L463.70,295.41 L464.11,295.44 L464.52,295.48 L464.93,295.51 L465.34,295.55 L465.74,295.58 L466.15,295.61 L466.56,295.65 L466.97,295.68 L467.37,295.71 L467.78,295.75 L468.19,295.78 L468.60,295.81 L469.01,295.85 L469.41,295.88 L469.82,295.91 L470.23,295.95 L470.64,295.98 L471.05,296.01 L471.45,296.05 L471.86,296.08 L472.27,296.11 L472.68,296.15 L473.08,296.18 L473.49,296.21 L473.90,296.25 L474.31,296.28 L474.72,296.31 L475.12,296.35 L475.53,296.38 L475.94,296.41 L476.35,296.45 L476.76,296.48 L477.16,296.51 L477.57,296.55 L477.98,296.58 L478.39,296.61 L478.80,296.65 L479.20,296.68 L479.61,296.71 L480.02,296.74 L480.43,296.78 L480.84,296.81 L481.24,296.84 L481.65,296.88 L482.06,296.91 L482.47,296.94 L482.87,296.98 L483.28,297.01 L483.69,297.04 L484.10,297.07 L484.51,297.11 L484.91,297.14 L485.32,297.17 L485.73,297.21 L486.14,297.24 L486.55,297.27 L486.95,297.30 L487.36,297.34 L487.77,297.37 L488.18,297.40 L488.59,297.44 L488.99,297.47 L489.40,297.50 L489.81,297.53 L490.22,297.57 L490.63,297.60 L491.03,297.63 L491.44,297.66 L491.85,297.70 L492.26,297.73 L492.67,297.76 L493.07,297.79 L493.48,297.83 L493.89,297.86 L494.30,297.89 L494.71,297.93 L495.11,297.96 L495.52,297.99 L495.93,298.02 L496.34,298.06 L496.75,298.09 L497.15,298.12 L497.56,298.15 L497.97,298.19 L498.38,298.22 L498.79,298.25 L499.19,298.28 L499.60,298.32 L500.01,298.35 L500.42,298.38 L500.83,298.41 L501.23,298.45 L501.64,298.48 L502.05,298.51 L502.46,298.54 L502.87,298.58 L503.27,298.61 L503.68,298.64 L504.09,298.67 L504.50,298.70 L504.91,298.74 L505.31,298.77 L505.72,298.80 L506.13,298.83 L506.54,298.87 L506.95,298.90 L507.35,298.93 L507.76,298.96 L508.17,299.00 L508.58,299.03 L508.99,299.06 L509.40,299.09 L509.80,299.13 L510.21,299.16 L510.62,299.19 L511.03,299.22 L511.44,299.25 L511.84,299.29 L512.25,299.32 L512.66,299.35 L513.07,299.38 L513.48,299.42 L513.88,299.45 L514.29,299.48 L514.70,299.51 L515.11,299.54 L515.52,299.58 L515.93,299.61 L516.33,299.64 L516.74,299.67 L517.15,299.71 L517.56,299.74 L517.97,299.77 L518.37,299.80 L518.78,299.83 L519.19,299.87 L519.60,299.90 L520.01,299.93 L520.41,299.96 L520.82,299.99 L521.23,300.03 L521.64,300.06 L522.05,300.09 L522.46,300.12 L522.86,300.15 L523.27,300.19 L523.68,300.22 L524.09,300.25 L524.50,300.28 L524.90,300.32 L525.31,300.35 L525.72,300.38 L526.13,300.41 L526.54,300.44 L526.95,300.48 L527.35,300.51 L527.76,300.54 L528.17,300.57 L528.58,300.60 L528.99,300.64 L529.40,300.67 L529.80,300.70 L530.21,300.73 L530.62,300.76 L531.03,300.80 L531.44,300.83 L531.84,300.86 L532.25,300.89 L532.66,300.92 L533.07,300.96 L533.48,300.99 L533.89,301.02 L534.29,301.05 L534.70,301.09 L535.11,301.12 L535.52,301.15 L535.93,301.18 L536.34,301.21 L536.74,301.25 L537.15,301.28 L537.56,301.31 L537.97,301.34 L538.38,301.37 L538.79,301.41 L539.19,301.44 L539.60,301.47 L540.01,301.50 L540.42,301.53 L540.83,301.57 L541.24,301.60 L541.64,301.63 L542.05,301.66 L542.46,301.69 L542.87,301.73 L543.28,301.76 L543.69,301.79 L544.09,301.82 L544.50,301.85 L544.91,301.89 L545.32,301.92 L545.73,301.95 L546.14,301.98 L546.54,302.01 L546.95,302.05 L547.36,302.08 L547.77,302.11 L548.18,302.14 L548.59,302.17 L548.99,302.21 L549.40,302.24 L549.81,302.27 L550.22,302.30 L550.63,302.34 L551.04,302.37 L551.45,302.40 L551.85,302.43 L552.26,302.46 L552.67,302.50 L553.08,302.53 L553.49,302.56 L553.90,302.59 L554.30,302.62 L554.71,302.66 L555.12,302.69 L555.53,302.72 L555.94,302.75 L556.35,302.78 L556.76,302.82 L557.16,302.85 L557.57,302.88 L557.98,302.91 L558.39,302.95 L558.80,302.98 L559.21,303.01 L559.62,303.04 L560.02,303.07 L560.43,303.11 L560.84,303.14 L561.25,303.17 L561.66,303.20 L562.07,303.24 L562.47,303.27 L562.88,303.30 L563.29,303.33 L563.70,303.36 L564.11,303.40 L564.52,303.43 L564.93,303.46 L565.33,303.49 L565.74,303.53 L566.15,303.56 L566.56,303.59 L566.97,303.62 L567.38,303.65 L567.79,303.69 L568.20,303.72 L568.60,303.75 L569.01,303.78 L569.42,303.82 L569.83,303.85 L570.24,303.88 L570.65,303.91 L571.06,303.95 L571.46,303.98 L571.87,304.01 L572.28,304.04 L572.69,304.07 L573.10,304.11 L573.51,304.14 L573.92,304.17 L574.33,304.20 L574.73,304.24 L575.14,304.27 L575.55,304.30 L575.96,304.33 L576.37,304.37 L576.78,304.40 L577.19,304.43 L577.59,304.46 L578.00,304.50 L578.41,304.53 L578.82,304.56 L579.23,304.59 L579.64,304.63 L580.05,304.66 L580.46,304.69 L580.86,304.72 L581.27,304.76 L581.68,304.79 L582.09,304.82 L582.50,304.85 L582.91,304.89 L583.32,304.92 L583.73,304.95 L584.14,304.99 L584.54,305.02 L584.95,305.05 L585.36,305.08 L585.77,305.12 L586.18,305.15 L586.59,305.18 L587.00,305.21 L587.41,305.25 L587.81,305.28 L588.22,305.31 L588.63,305.35 L589.04,305.38 L589.45,305.41 L589.86,305.44 L590.27,305.48 L590.68,305.51 L591.09,305.54 L591.49,305.57 L591.90,305.61 L592.31,305.64 L592.72,305.67 L593.13,305.71 L593.54,305.74 L593.95,305.77 L594.36,305.81 L594.77,305.84 L595.18,305.87 L595.58,305.90 L595.99,305.94 L596.40,305.97 L596.81,306.00 L597.22,306.04 L597.63,306.07 L598.04,306.10 L598.45,306.14 L598.86,306.17 L599.27,306.20 L599.67,306.23 L600.08,306.27 L600.49,306.30 L600.90,306.33 L601.31,306.37 L601.72,306.40 L602.13,306.43 L602.54,306.47 L602.95,306.50 L603.36,306.53 L603.77,306.57 L604.17,306.60 L604.58,306.63 L604.99,306.67 L605.40,306.70 L605.81,306.73 L606.22,306.77 L606.63,306.80 L607.04,306.83 L607.45,306.87 L607.86,306.90 L608.27,306.93 L608.67,306.97 L609.08,307.00 L609.49,307.03 L609.90,307.07 L610.31,307.10 L610.72,307.14 L611.13,307.17 L611.54,307.20 L611.95,307.24 L612.36,307.27 L612.77,307.30 L613.18,307.34 L613.59,307.37 L613.99,307.40 L614.40,307.44 L614.81,307.47 L615.22,307.51" fill="none" stroke="#d32f22" stroke-width="2.8" stroke-dasharray="30.2 6.6 6 6.6" stroke-dashoffset="14.5" stroke-linejoin="round"/>
<line x1="429.8" y1="97.3" x2="479.5" y2="97.3" stroke="#111" stroke-width="2.8"/>
<line x1="429.2" y1="123.3" x2="479.8" y2="123.3" stroke="#d32f22" stroke-width="2.8" stroke-dasharray="16 6 6.5 5.5"/>
<g><text transform="translate(81.40,437.2) scale(1,1.055)" text-anchor="middle">0</text><text transform="translate(167.73,437.2) scale(1,1.055)" text-anchor="middle">5</text><text transform="translate(242.26,437.2) scale(1,1.055)" text-anchor="middle">10</text><text transform="translate(317.39,437.2) scale(1,1.055)" text-anchor="middle">15</text><text transform="translate(392.51,437.2) scale(1,1.055)" text-anchor="middle">20</text><text transform="translate(467.64,437.2) scale(1,1.055)" text-anchor="middle">25</text><text transform="translate(542.77,437.2) scale(1,1.055)" text-anchor="middle">30</text><text transform="translate(617.90,437.2) scale(1,1.055)" text-anchor="middle">35</text><text transform="translate(87.3,355.90) scale(1,1.055)" text-anchor="end">0.1</text><text transform="translate(87.3,290.15) scale(1,1.055)" text-anchor="end">0.2</text><text transform="translate(87.3,223.55) scale(1,1.055)" text-anchor="end">0.3</text><text transform="translate(87.3,158.10) scale(1,1.055)" text-anchor="end">0.4</text><text transform="translate(87.3,92.90) scale(1,1.055)" text-anchor="end">0.5</text><text transform="translate(87.3,27.85) scale(1,1.055)" text-anchor="end">0.6</text></g>
<text class="c" x="431" y="75.5">轮轨接触条件：</text>
<text class="c" x="486.5" y="105">干燥</text>
<text class="c" x="486.5" y="131.5">低黏着</text>
<text class="c" x="250" y="125">摩擦因数</text>
<text class="c" x="423" y="366.6">轴重：</text><text transform="translate(492,366.6) scale(1,1.055)">25 t</text>
<text class="c" x="423" y="393.3">运行速度：</text><text transform="translate(538,393.3) scale(1,1.055)">70 km/h</text>
<text class="c" x="281" y="475.3">轮轨蠕滑率</text><text transform="translate(396,475.3) scale(1,1.055)">(%)</text>
<text class="c" style="font-size:23.7px" transform="translate(38.4,216.3) rotate(-90)" text-anchor="middle">黏着系数</text>
</svg>
</body></html>
